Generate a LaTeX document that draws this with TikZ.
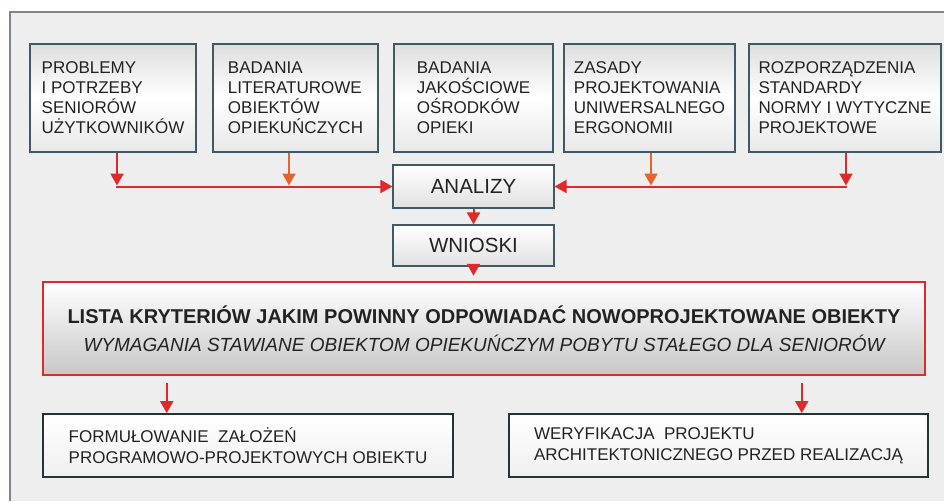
\documentclass[tikz,border=0pt]{standalone}
\usepackage{fontspec}
\setmainfont{Liberation Sans}
\usetikzlibrary{arrows.meta,calc}
\definecolor{bgc}{HTML}{EEEEEE}
\definecolor{framec}{HTML}{7D8591}
\definecolor{boxline}{HTML}{3D5A66}
\definecolor{darkline}{HTML}{1F3538}
\definecolor{redc}{HTML}{E02A2A}
\definecolor{orangec}{HTML}{E8622A}
\definecolor{txt}{HTML}{222222}
\tikzset{
  topbox/.style={draw=boxline, line width=1.2pt, rectangle, inner sep=0pt,
    top color=black!13, bottom color=black!9, middle color=white,
    align=left, text=txt, font=\fontsize{17}{20}\selectfont},
  midbox/.style={draw=boxline, line width=1.2pt, rectangle, inner sep=0pt,
    top color=white, bottom color=black!12, text=txt,
    font=\fontsize{20.5}{24}\selectfont},
  listbox/.style={draw=redc, line width=2.5pt, rectangle, inner sep=0pt,
    top color=white, bottom color=black!22, align=center, text=txt},
  botbox/.style={draw=darkline, line width=1.8pt, rectangle, inner sep=0pt,
    top color=white, bottom color=black!6, align=left, text=txt,
    font=\fontsize{17}{21}\selectfont},
  redarrow/.style={draw=redc, line width=2pt, -{Triangle[width=13pt,length=12pt]}},
  orangearrow/.style={draw=orangec, line width=2pt, -{Triangle[width=13pt,length=12pt]}},
}
\begin{document}
\begin{tikzpicture}[x=1pt,y=-1pt]
\useasboundingbox (0,0) rectangle (944,501);
% background and frame
\fill[bgc] (10,12) rectangle (944,501);
\draw[framec, line width=2.5pt] (10,501) -- (10,12) -- (944,12);

% top boxes
\node[topbox, minimum width=166pt, minimum height=108pt] (b1) at (113,98)
  {PROBLEMY\\I POTRZEBY\\SENIORÓW\\UŻYTKOWNIKÓW};
\node[topbox, minimum width=165pt, minimum height=108pt] (b2) at (295.5,98)
  {BADANIA\\LITERATUROWE\\OBIEKTÓW\\OPIEKUŃCZYCH};
\node[topbox, minimum width=159pt, minimum height=108pt] (b3) at (473.5,98)
  {BADANIA\\JAKOŚCIOWE\\OŚRODKÓW\\OPIEKI};
\node[topbox, minimum width=171pt, minimum height=108pt] (b4) at (649.5,98)
  {ZASADY\\PROJEKTOWANIA\\UNIWERSALNEGO\\ERGONOMII};
\node[topbox, minimum width=192pt, minimum height=108pt] (b5) at (845,98)
  {ROZPORZĄDZENIA\\STANDARDY\\NORMY I WYTYCZNE\\PROJEKTOWE};

% middle boxes
\node[midbox, minimum width=161pt, minimum height=43pt] (an) at (473.5,186.5) {ANALIZY};
\node[midbox, minimum width=161pt, minimum height=41pt] (wn) at (473.5,245.5) {WNIOSKI};

% list box
\node[listbox, minimum width=882pt, minimum height=93pt] (lista) at (484,328.5)
  {{\fontsize{20}{24}\selectfont\bfseries LISTA KRYTERIÓW JAKIM POWINNY ODPOWIADAĆ NOWOPROJEKTOWANE OBIEKTY}\\[10pt]
   {\fontsize{19}{24}\selectfont\itshape WYMAGANIA STAWIANE OBIEKTOM OPIEKUŃCZYM POBYTU STAŁEGO DLA SENIORÓW}};

% bottom boxes
\node[botbox, minimum width=410pt, minimum height=63pt] (fl) at (248,445.5)
  {FORMUŁOWANIE\ \ ZAŁOŻEŃ\\PROGRAMOWO-PROJEKTOWYCH OBIEKTU};
\node[botbox, minimum width=419pt, minimum height=63pt] (wr) at (718.5,445.5)
  {WERYFIKACJA\ \ PROJEKTU\\ARCHITEKTONICZNEGO PRZED REALIZACJĄ};

% connectors from top boxes
\coordinate (j1) at ([xshift=4pt]b1.south |- an.west);
\coordinate (j2) at ([xshift=-6.5pt]b2.south |- an.west);
\coordinate (j4) at ([xshift=1.5pt]b4.south |- an.west);
\coordinate (j5) at ([xshift=1pt]b5.south |- an.west);
\draw[redarrow] ([xshift=-1pt]j1) -- (an.west);
\draw[redarrow] ([xshift=1pt]j5) -- (an.east);
\draw[redarrow] ([xshift=4pt]b1.south) -- ([yshift=1pt]j1);
\draw[orangearrow] ([xshift=-6.5pt]b2.south) -- ([yshift=1pt]j2);
\draw[orangearrow] ([xshift=1.5pt]b4.south) -- ([yshift=1pt]j4);
\draw[redarrow] ([xshift=1pt]b5.south) -- ([yshift=1pt]j5);

% vertical flow
\draw[redarrow] (an.south) -- (wn.north);
\draw[redarrow] (wn.south) -- ([yshift=5pt]wn.south |- lista.north);

% to bottom boxes
\coordinate (s1) at ($(lista.south west)+(125,7)$);
\coordinate (s2) at ($(lista.south west)+(760,7)$);
\draw[redarrow] (s1) -- (s1 |- fl.north);
\draw[redarrow] (s2) -- (s2 |- wr.north);
\end{tikzpicture}
\end{document}
